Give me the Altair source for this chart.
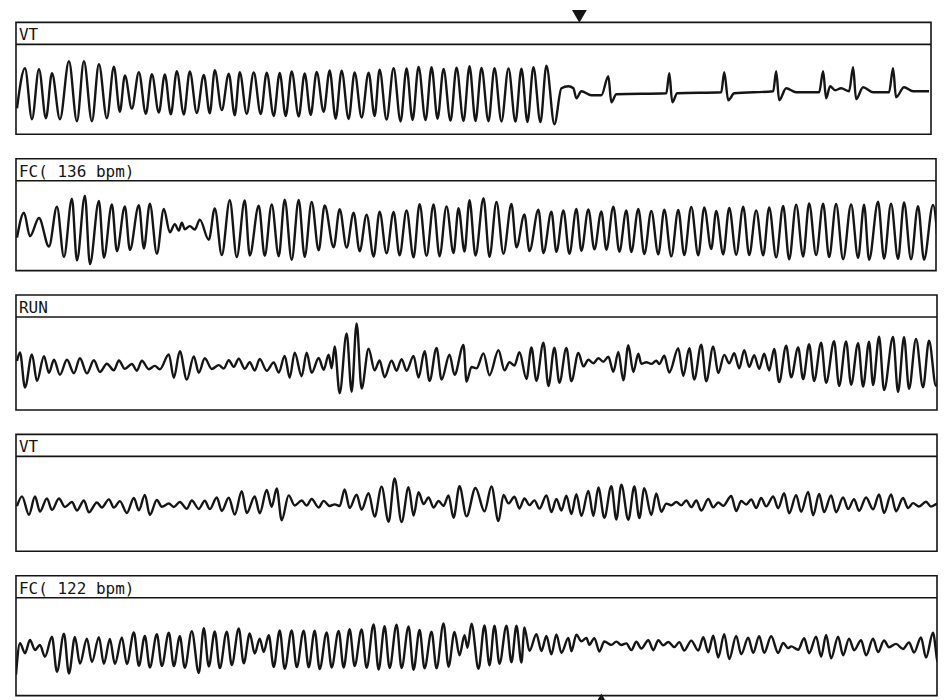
import altair as alt
import pandas as pd

# labels printed in the header band of each strip
labels = ["VT", "FC( 136 bpm)", "RUN", "VT", "FC( 122 bpm)"]

# (time in ms from the left edge of the strip, amplitude in mm)
strip1 = [
    (10, -1.9), (90, 2.1), (160, -3.0), (230, 2.0), (300, -2.9), (360, 1.6), (440, -3.0),
    (530, 2.8), (610, -3.2), (680, 2.8), (760, -3.2), (830, 2.5), (910, -2.9),
    (980, 2.25), (1040, -2.25), (1090, 1.39), (1160, -1.94), (1230, 1.71), (1300, -2.46),
    (1360, 1.52), (1430, -2.32), (1490, 1.49), (1550, -2.5), (1610, 1.81), (1680, -2.52),
    (1740, 1.79), (1810, -2.38), (1880, 1.43), (1940, -2.4), (1990, 1.91), (2060, -2.09),
    (2130, 1.56), (2190, -2.61), (2240, 1.70), (2310, -2.46), (2380, 1.68), (2450, -2.48),
    (2510, 1.66), (2580, -2.67), (2640, 1.64), (2700, -2.69), (2760, 1.78), (2830, -2.72),
    (2890, 1.59), (2950, -2.57), (3010, 1.74), (3080, -2.26), (3140, 1.89), (3200, -2.95),
    (3260, 1.87), (3330, -2.97), (3390, 1.68), (3460, -2.82), (3530, 1.66), (3590, -2.68),
    (3640, 1.97), (3710, -3.03), (3780, 2.11), (3850, -3.22), (3910, 2.09), (3970, -3.08),
    (4030, 2.24), (4100, -3.09), (4160, 2.22), (4220, -2.95), (4280, 2.03), (4350, -3.14),
    (4410, 2.17), (4480, -3.16), (4540, 2.32), (4600, -3.18), (4660, 2.13), (4730, -3.2),
    (4790, 2.11), (4860, -3.22), (4930, 2.09), (5000, -3.24), (5060, 2.07), (5120, -3.27),
    (5180, 2.21), (5250, -3.29), (5310, 2.36), (5390, -3.5),
    # back to sinus rhythm
    (5460, 0.1), (5530, 0.3), (5580, 0.1), (5610, -0.9), (5660, -0.2), (5760, -0.6),
    (5860, -0.6), (5930, 1.3), (5960, -1.3), (6010, -0.5), (6510, -0.4), (6540, 1.6),
    (6570, -1.3), (6620, -0.4), (7060, -0.3), (7090, 1.7), (7130, -1.1), (7190, -0.4),
    (7580, -0.2), (7610, 1.8), (7640, -1.1), (7710, 0.1), (7810, -0.3), (8040, -0.3),
    (8080, 1.8), (8110, -0.9), (8150, 0.3), (8200, -0.1), (8260, 0.1), (8340, -0.2),
    (8380, 2.2), (8410, -1.0), (8480, 0.2), (8580, -0.3), (8740, -0.3), (8780, 2.1),
    (8810, -0.8), (8890, 0.2), (8980, -0.2), (9140, -0.2),
]

strip2 = [
    (10, -1.2), (80, 1.29), (140, -1.06), (230, 0.76), (330, -2.09), (410, 1.89), (480, -3.13),
    (560, 2.69), (610, -3.48), (690, 3.0), (740, -3.85), (830, 2.47), (880, -3.2),
    (960, 2.11), (1010, -2.56), (1090, 1.92), (1140, -2.43), (1230, 2.05), (1280, -2.29),
    (1340, 2.2), (1410, -2.81), (1480, 1.67), (1540, -0.67), (1590, 0.15), (1630, -0.5),
    (1660, 0.3), (1690, -0.37), (1740, -0.05), (1790, -0.39), (1840, 0.6), (1930, -1.42),
    (1990, 1.73), (2060, -2.95), (2140, 2.54), (2210, -3.14), (2290, 2.51), (2340, -3.0),
    (2430, 2.0), (2490, -3.03), (2560, 2.12), (2630, -3.06), (2690, 2.59), (2760, -3.42),
    (2830, 2.57), (2890, -3.12), (2960, 2.37), (3030, -2.47), (3090, 2.01), (3180, -2.17),
    (3240, 1.64), (3310, -2.2), (3380, 1.29), (3440, -2.56), (3510, 1.09), (3580, -3.09),
    (3640, 1.40), (3710, -2.78), (3780, 1.37), (3840, -2.97), (3910, 1.51), (3980, -3.17),
    (4040, 2.15), (4110, -3.03), (4180, 2.12), (4240, -3.06), (4310, 1.93), (4380, -2.75),
    (4430, 1.74), (4490, -2.6), (4540, 2.55), (4600, -3.0), (4680, 2.74), (4740, -3.11),
    (4810, 2.37), (4880, -2.81), (4960, 2.16), (5010, -2.18), (5090, 1.13), (5140, -2.55),
    (5230, 1.6), (5280, -2.75), (5360, 1.4), (5410, -2.62), (5480, 1.53), (5540, -2.82),
    (5610, 1.66), (5660, -2.52), (5730, 1.63), (5790, -2.38), (5860, 1.43), (5910, -2.41),
    (5980, 1.9), (6040, -2.61), (6110, 1.53), (6160, -2.64), (6230, 1.67), (6290, -2.85),
    (6360, 1.47), (6430, -2.88), (6490, 1.6), (6560, -3.08), (6630, 1.57), (6690, -2.95),
    (6760, 1.87), (6830, -2.98), (6890, 1.83), (6960, -2.35), (7010, 1.47), (7080, -2.88),
    (7140, 1.77), (7210, -2.91), (7280, 1.9), (7340, -2.95), (7410, 1.53), (7480, -2.98),
    (7540, 1.83), (7610, -3.18), (7680, 1.97), (7740, -3.38), (7810, 2.1), (7880, -3.09),
    (7940, 2.23), (8010, -2.95), (8080, 2.2), (8140, -3.15), (8210, 2.16), (8280, -3.36),
    (8360, 2.12), (8430, -3.23), (8490, 2.09), (8540, -3.42), (8630, 2.39), (8690, -3.3),
    (8760, 2.19), (8830, -3.33), (8890, 2.32), (8960, -3.36), (9030, 1.95), (9090, -3.4),
    (9180, 2.08), (9230, -1.77),
]

strip3 = [
    (10, 0.11), (40, 0.95), (90, -2.56), (160, 0.76), (210, -1.91), (280, 0.58), (330, -1.09),
    (380, 0.23), (440, -1.27), (510, 0.22), (580, -1.12), (640, 0.37), (710, -1.14),
    (780, 0.18), (840, -0.99), (910, -0.17), (980, -0.84), (1030, 0.15), (1090, -0.69),
    (1160, -0.2), (1210, -0.87), (1260, 0.12), (1330, -0.72), (1390, -0.39), (1440, -0.73),
    (1530, 0.76), (1580, -1.59), (1640, 1.07), (1710, -1.76), (1780, 0.56), (1830, -1.08),
    (1890, 0.37), (1960, -0.7), (2030, -0.31), (2080, -0.65), (2130, 0.18), (2180, -0.49),
    (2230, 0.33), (2290, -0.68), (2340, -0.02), (2390, -0.85), (2440, 0.3), (2510, -0.87),
    (2580, -0.04), (2630, -1.05), (2690, 0.61), (2740, -1.57), (2790, 0.93), (2860, -1.42),
    (2910, 0.93), (2960, -1.09), (3030, 0.40), (3080, -0.78), (3130, 0.72), (3160, -0.62),
    (3190, 1.55), (3240, -3.13), (3310, 2.86), (3360, -2.98), (3410, 3.85), (3460, -2.66),
    (3530, 1.33), (3590, -0.84), (3640, 0.15), (3690, -1.52), (3760, 0.14), (3810, -0.87),
    (3860, 0.29), (3910, -0.88), (3980, 0.61), (4030, -1.56), (4090, 1.09), (4140, -1.91),
    (4210, 1.41), (4260, -1.76), (4340, 0.73), (4390, -1.28), (4480, 1.71), (4510, -1.96),
    (4560, -0.5), (4610, -0.64), (4680, 0.86), (4740, -1.32), (4830, 1.17), (4890, -0.84),
    (4940, -0.02), (4990, -0.35), (5040, 0.97), (5110, -1.7), (5160, 1.45), (5210, -1.88),
    (5280, 1.94), (5330, -2.4), (5390, 1.43), (5440, -2.08), (5510, 1.41), (5560, -1.93),
    (5630, 0.9), (5680, -0.44), (5730, 0.22), (5780, -0.12), (5830, 0.37), (5880, 0.03),
    (5930, 0.53), (5980, -0.98), (6030, 1.01), (6080, -1.83), (6130, 1.67), (6180, -1.0),
    (6230, 0.82), (6260, -0.18), (6310, -0.02), (6360, -0.19), (6410, 0.13), (6440, -0.2),
    (6490, 0.62), (6540, -1.05), (6630, 1.37), (6680, -1.4), (6740, 1.39), (6790, -1.75),
    (6860, 1.74), (6910, -1.93), (6980, 1.56), (7030, -1.11), (7090, 0.71), (7140, -0.13),
    (7190, 0.87), (7240, -0.64), (7290, 1.19), (7340, -0.49), (7390, 0.67), (7440, -0.67),
    (7490, 0.83), (7540, -0.85), (7590, 1.31), (7640, -2.02), (7710, 1.63), (7760, -1.54),
    (7830, 1.45), (7880, -1.72), (7940, 1.77), (7990, -1.9), (8060, 1.92), (8110, -2.08),
    (8190, 2.07), (8240, -2.4), (8310, 2.06), (8360, -2.28), (8430, 1.88), (8480, -2.46),
    (8540, 2.03), (8580, -2.31), (8640, 2.52), (8690, -2.82), (8780, 2.5), (8830, -3.01),
    (8890, 2.48), (8940, -2.69), (9010, 2.3), (9080, -2.54), (9140, 2.12), (9210, -2.39),
    (9260, 2.77),
]

strip4 = [
    (10, -0.49), (60, 0.5), (130, -1.34), (190, 0.48), (240, -1.02), (310, 0.3), (360, -0.88),
    (430, 0.28), (490, -0.56), (560, -0.07), (610, -0.91), (680, 0.08), (730, -1.1),
    (810, -0.11), (860, -0.62), (930, 0.2), (980, -0.63), (1040, 0.02), (1110, -1.16),
    (1180, 0.34), (1230, -0.9), (1290, 0.65), (1340, -1.36), (1410, 0.13), (1460, -0.54),
    (1530, -0.22), (1580, -0.56), (1640, -0.07), (1710, -0.74), (1760, 0.08), (1830, -0.76),
    (1890, 0.06), (1940, -0.78), (2010, 0.38), (2060, -0.96), (2130, 0.36), (2190, -1.32),
    (2260, 1.01), (2310, -1.17), (2390, 0.49), (2440, -1.19), (2510, 1.13), (2560, -0.54),
    (2610, 1.29), (2660, -1.89), (2730, 0.6), (2790, -0.41), (2860, 0.08), (2910, -0.42),
    (2960, 0.23), (3030, -0.61), (3080, 0.05), (3140, -0.46), (3190, -0.3), (3240, -0.47),
    (3290, 1.19), (3340, -0.66), (3410, 0.67), (3460, -0.84), (3530, 0.82), (3590, -1.53),
    (3660, 1.47), (3730, -2.05), (3790, 2.28), (3860, -2.07), (3930, 1.42), (3980, -1.42),
    (4030, 0.91), (4080, -0.27), (4130, 0.39), (4180, -0.62), (4230, 0.04), (4280, -0.46),
    (4330, 0.6), (4380, -1.65), (4440, 1.51), (4510, -1.5), (4600, 1.34), (4690, -1.0),
    (4760, 1.49), (4830, -1.98), (4880, 0.64), (4930, -0.2), (4990, 0.46), (5040, -0.71),
    (5090, 0.29), (5140, -0.38), (5190, 0.1), (5240, -0.73), (5310, 0.6), (5360, -1.08),
    (5410, 0.25), (5460, -0.92), (5510, 0.57), (5560, -1.27), (5610, 0.72), (5660, -1.45),
    (5730, 1.04), (5780, -1.46), (5830, 1.38), (5890, -1.64), (5960, 1.52), (6010, -1.82),
    (6060, 1.67), (6130, -1.84), (6190, 1.49), (6240, -1.68), (6290, 1.31), (6360, -1.36),
    (6410, 0.79), (6460, -1.04), (6510, -0.23), (6560, -0.39), (6610, -0.06), (6660, -0.4),
    (6710, 0.09), (6760, -0.58), (6810, 0.08), (6860, -0.93), (6930, 0.23), (6980, -0.6),
    (7030, -0.11), (7080, -0.45), (7160, 0.53), (7210, -0.97), (7260, 0.03), (7310, -0.31),
    (7360, 0.18), (7410, -0.66), (7460, 0.33), (7510, -0.5), (7580, 0.49), (7630, -0.69),
    (7690, 0.81), (7740, -1.2), (7810, 0.62), (7860, -1.04), (7930, 0.95), (7980, -1.39),
    (8040, 0.73), (8090, -1.07), (8160, 0.6), (8210, -1.09), (8280, 0.4), (8330, -0.77),
    (8390, 0.22), (8440, -0.95), (8510, 0.38), (8580, -0.8), (8640, 0.69), (8690, -1.15),
    (8760, 0.68), (8810, -0.99), (8880, 0.33), (8930, -0.67), (8980, -0.18), (9040, -0.52),
    (9110, -0.04), (9160, -0.53), (9230, -0.21), (9280, -0.38), (9330, -0.06),
]

strip5 = [
    (0, -3.2), (40, -0.05), (90, -1.05), (140, 0.27), (190, -0.73), (240, -0.23), (290, -1.4),
    (360, 0.59), (410, -2.92), (480, 0.91), (530, -3.09), (590, 0.57), (640, -2.1),
    (710, 0.4), (760, -1.94), (830, 0.55), (880, -2.12), (940, 0.37), (990, -2.13),
    (1060, 0.53), (1110, -2.14), (1180, 1.02), (1230, -2.32), (1290, 0.68), (1340, -2.49),
    (1410, 0.84), (1460, -2.34), (1530, 1.0), (1580, -2.35), (1640, 0.65), (1690, -2.52),
    (1760, 1.14), (1830, -3.03), (1880, 1.46), (1930, -2.38), (1990, 1.12), (2040, -2.55),
    (2110, 1.11), (2160, -2.23), (2230, 1.43), (2280, -2.07), (2340, 0.92), (2390, -1.08),
    (2440, 0.41), (2480, -0.92), (2530, 0.74), (2580, -2.43), (2640, 1.23), (2690, -2.61),
    (2760, 1.22), (2810, -2.45), (2880, 1.21), (2930, -2.46), (2990, 1.2), (3040, -2.64),
    (3110, 1.03), (3160, -2.48), (3230, 1.18), (3280, -2.49), (3340, 1.34), (3390, -2.33),
    (3460, 1.33), (3510, -2.51), (3580, 1.82), (3630, -2.69), (3690, 1.64), (3740, -2.53),
    (3810, 1.8), (3860, -2.54), (3930, 1.62), (3980, -2.72), (4040, 1.28), (4090, -2.56),
    (4160, 1.1), (4210, -2.57), (4280, 1.93), (4330, -2.41), (4390, 1.08), (4440, -1.26),
    (4490, 0.74), (4520, -0.5), (4560, 1.9), (4630, -2.61), (4690, 1.72), (4740, -2.28),
    (4790, 1.71), (4840, -2.12), (4910, 1.7), (4960, -1.97), (5010, 1.69), (5060, -1.98),
    (5090, 1.52), (5140, -0.82), (5210, 0.85), (5260, -0.83), (5310, 0.67), (5360, -1.17),
    (5410, 0.83), (5460, -1.01), (5530, 0.48), (5560, -0.85), (5610, 0.81), (5660, 0.14),
    (5710, 0.47), (5740, -0.2), (5790, 0.46), (5840, -0.88), (5890, 0.12), (5960, -0.22),
    (6010, 0.11), (6060, -0.23), (6110, -0.07), (6160, -0.74), (6210, 0.09), (6260, -0.58),
    (6330, 0.25), (6380, -0.75), (6430, 0.24), (6480, -0.26), (6530, 0.07), (6590, -0.44),
    (6640, 0.06), (6690, -0.78), (6760, 0.21), (6830, -0.79), (6880, 0.54), (6930, -0.97),
    (6980, 0.69), (7030, -1.48), (7090, 0.85), (7140, -1.65), (7210, 0.68), (7260, -1.16),
    (7330, 0.5), (7380, -1.01), (7440, 0.65), (7490, -1.02), (7560, 0.64), (7630, -1.03),
    (7680, -0.03), (7730, -0.54), (7760, -0.37), (7830, -0.71), (7890, 0.45), (7940, -1.05),
    (8010, 0.61), (8060, -1.4), (8110, 0.77), (8160, -1.57), (8230, 0.59), (8280, -1.25),
    (8340, 0.41), (8390, -0.76), (8460, 0.24), (8510, -1.27), (8580, 0.39), (8630, -0.94),
    (8690, 0.22), (8740, -0.46), (8810, -0.12), (8880, -0.63), (8940, 0.03), (8990, -0.98),
    (9060, 0.52), (9110, -1.49), (9180, 0.99), (9230, -2.0), (9280, 1.17), (9330, -1.84),
]

strips = [strip1, strip2, strip3, strip4, strip5]

# event markers (ms on strip 1 and strip 5)
marker_top_t = [5640]
marker_bottom_t = [5860]

widths = [916, 921, 922, 922, 922]
wave_heights = [90, 90, 93, 95, 98]
HEADER_H = 22
TOP_MM = 4.5          # top of the trace area, in mm
INK = "#151515"


def make_strip(points, label, w, h, top_marker=None, bottom_marker=None):
    df = pd.DataFrame(points, columns=["t", "mv"])
    x = alt.X("t:Q", axis=None, scale=alt.Scale(domain=[0, w * 10], nice=False, zero=False))
    y = alt.Y("mv:Q", axis=None,
              scale=alt.Scale(domain=[TOP_MM - h / 10, TOP_MM + HEADER_H / 10],
                              nice=False, zero=False))

    wave = alt.Chart(df).mark_line(
        color=INK, strokeWidth=2.4, interpolate="monotone", clip=True
    ).encode(x=x, y=y)

    divider = alt.Chart(pd.DataFrame({"mv": [TOP_MM]})).mark_rule(
        color=INK, strokeWidth=1.6
    ).encode(y=y)

    text = alt.Chart(pd.DataFrame({"label": [label]})).mark_text(
        align="left", baseline="alphabetic", font="DejaVu Sans Mono",
        fontSize=16, color=INK
    ).encode(x=alt.value(3), y=alt.value(18), text="label:N")

    layers = [divider, text, wave]

    if top_marker is not None:
        layers.append(alt.Chart(pd.DataFrame({"t": top_marker})).mark_point(
            shape="triangle-down", filled=True, size=220, color=INK, opacity=1
        ).encode(x=x, y=alt.value(-6)))

    if bottom_marker is not None:
        layers.append(alt.Chart(pd.DataFrame({"t": bottom_marker})).mark_point(
            shape="triangle-up", filled=True, size=200, color=INK, opacity=1
        ).encode(x=x, y=alt.value(h + HEADER_H + 4)))

    return alt.layer(*layers).properties(width=w, height=h + HEADER_H)


panels = [
    make_strip(strips[i], labels[i], widths[i], wave_heights[i],
               top_marker=marker_top_t if i == 0 else None,
               bottom_marker=marker_bottom_t if i == 4 else None)
    for i in range(5)
]

chart = alt.vconcat(*panels, spacing=22.5).resolve_scale(
    x="independent", y="independent"
).properties(
    padding={"left": 6, "top": 0, "right": 0, "bottom": 0}
).configure(
    background="white"
).configure_view(
    stroke=INK, strokeWidth=1.6
)

chart.save("out.html", embed_options={"renderer": "svg", "actions": False})
